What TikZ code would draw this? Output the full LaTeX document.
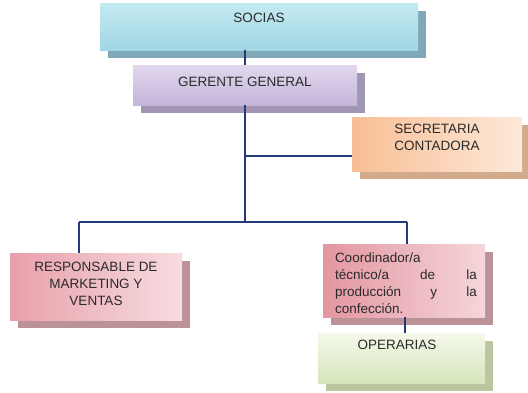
\documentclass[tikz,border=0pt]{standalone}
\usepackage{fontspec}
\setmainfont{Liberation Sans}
\usetikzlibrary{shadows}
\definecolor{lineblue}{HTML}{22397A}
\definecolor{txt}{HTML}{2A2A2A}
\definecolor{socT}{RGB}{197,234,242}
\definecolor{socB}{RGB}{160,214,228}
\definecolor{socS}{RGB}{128,168,182}
\definecolor{gerT}{RGB}{226,216,238}
\definecolor{gerB}{RGB}{196,180,218}
\definecolor{gerS}{RGB}{160,150,180}
\definecolor{secL}{RGB}{248,190,148}
\definecolor{secR}{RGB}{253,233,218}
\definecolor{secS}{RGB}{210,170,140}
\definecolor{resL}{RGB}{232,160,170}
\definecolor{resR}{RGB}{246,220,224}
\definecolor{resS}{RGB}{186,146,152}
\definecolor{coL}{RGB}{228,150,160}
\definecolor{coR}{RGB}{244,214,218}
\definecolor{opT}{RGB}{244,248,234}
\definecolor{opB}{RGB}{214,230,186}
\definecolor{opS}{RGB}{186,198,160}
\begin{document}
\begin{tikzpicture}[x=1pt,y=-1pt,
  boxbase/.style={rectangle, draw=none, inner sep=0pt},
  shad/.style={general shadow={fill=#1, shadow xshift=8pt, shadow yshift=-8pt}},
  lbl/.style={font=\fontsize{13.5}{17}\selectfont, text=txt, align=center, inner sep=0pt},
  conn/.style={draw=lineblue, line width=1.6pt}]
\useasboundingbox (0,0) rectangle (528,392);
% boxes
\node[boxbase, shad=socS, top color=socT, bottom color=socB,
  minimum width=318pt, minimum height=47pt] (socias) at (259,26.5) {};
\node[boxbase, shad=gerS, top color=gerT, bottom color=gerB,
  minimum width=224pt, minimum height=40pt] (gerente) at (245,85) {};
\node[boxbase, shad=secS, left color=secL, right color=secR,
  minimum width=170pt, minimum height=54pt] (secretaria) at (437,144) {};
\node[boxbase, shad=resS, left color=resL, right color=resR,
  minimum width=172pt, minimum height=67pt] (responsable) at (96,286.5) {};
\node[boxbase, shad=resS, left color=coL, right color=coR,
  minimum width=162pt, minimum height=73pt] (coord) at (404,280.5) {};
\node[boxbase, shad=opS, top color=opT, bottom color=opB,
  minimum width=167pt, minimum height=50pt] (operarias) at (401.5,358) {};
% junctions
\coordinate (jtop) at (245,50);
\coordinate (jsec) at (245,156);
\coordinate (jmid) at (245,222);
\coordinate (jl) at (79,222);
\coordinate (jr) at (407,222);
\coordinate (jc) at (405,317);
% connectors
\draw[conn] (jtop) -- (gerente.north -| jtop);
\draw[conn] (gerente.south -| jtop) -- (jmid);
\draw[conn] (jsec) -- (jsec -| secretaria.west);
\draw[conn] (jl) -- (jr);
\draw[conn] (jl) -- (jl |- responsable.north);
\draw[conn] (jr) -- (jr |- coord.north);
\draw[conn] (jc) -- (jc |- operarias.north);
% texts
\node[lbl] (t1) at (259,18) {SOCIAS};
\node[lbl] (t2) at (245,82) {GERENTE GENERAL};
\node[lbl] (t3) at (437,137.5) {SECRETARIA\\CONTADORA};
\node[lbl] (t4) at (96,284) {RESPONSABLE DE\\MARKETING Y\\VENTAS};
\node[lbl, align=left, text width=142pt] (t5) at (406,283.5) {Coordinador/a\\t\'ecnico/a\hfill de\hfill la\\producci\'on\hfill y\hfill la\\confecci\'on.};
\node[lbl] (t6) at (397,345) {OPERARIAS};
\end{tikzpicture}
\end{document}
